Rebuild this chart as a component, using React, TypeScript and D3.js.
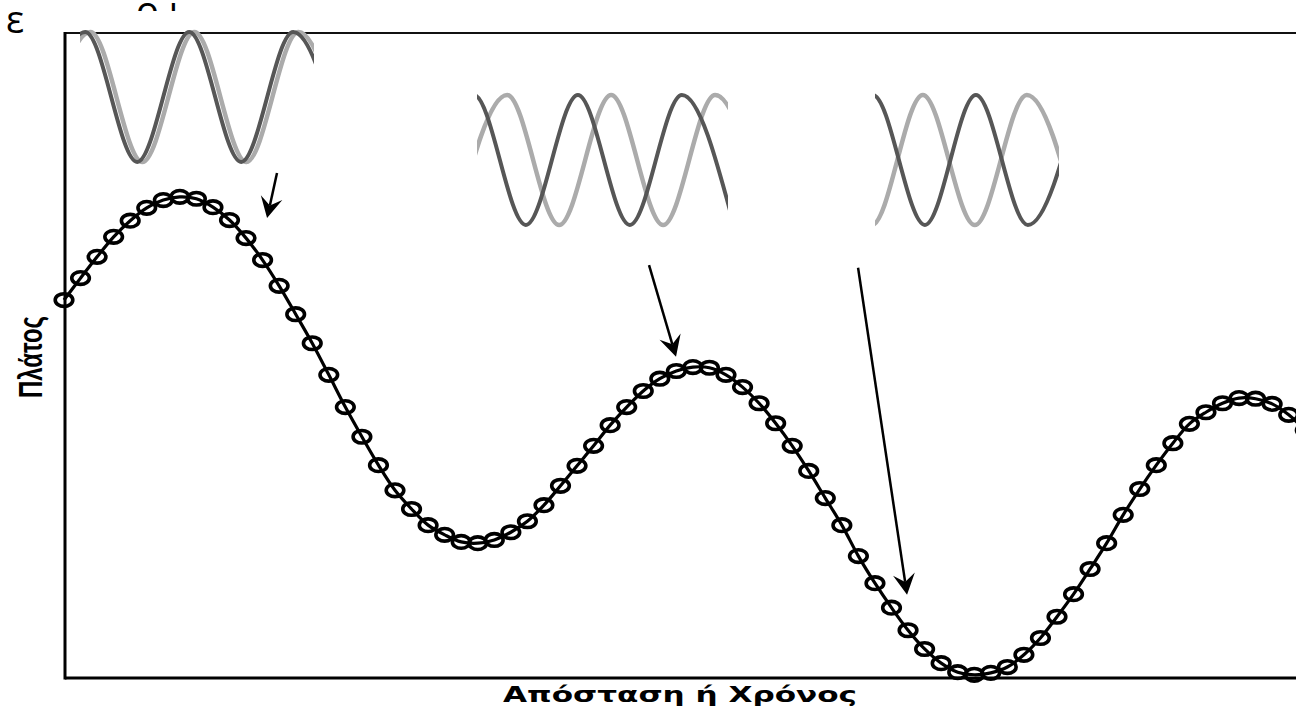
import React from 'react';
import * as d3 from 'd3';

const W = 1296;
const H = 714;

// Resulting wave: amplitude sampled at equal steps of distance / time
const amplitude: number[] = [
  58.6, 62.0, 65.3, 68.4, 70.9, 72.9, 74.1, 74.6, 74.3, 73.0,
  71.0, 68.2, 64.8, 60.8, 56.4, 51.9, 47.0, 42.0, 37.4, 33.0,
  29.1, 26.2, 23.7, 22.2, 21.1, 20.9, 21.4, 22.6, 24.3, 26.8,
  29.8, 32.9, 36.0, 39.2, 42.0, 44.5, 46.4, 47.6, 48.2, 48.1,
  47.0, 45.1, 42.6, 39.5, 36.0, 32.1, 27.9, 23.7, 18.9, 14.7,
  10.9, 7.4, 4.5, 2.3, 0.9, 0.5, 0.8, 1.7, 3.6, 6.2,
  9.5, 13.0, 16.9, 20.9, 25.3, 29.3, 33.0, 36.4, 39.4, 41.2,
  42.6, 43.4, 43.3, 42.5, 40.8, 38.4,
];
const step: number[] = amplitude.map((_, i) => i);

// Arrows (in data units: step, amplitude)
const arrowFromX = [12.87, 35.35, 47.98];
const arrowFromY = [78.3, 64.0, 63.6];
const arrowToX = [12.27, 36.98, 50.94];
const arrowToY = [71.3, 49.8, 12.9];

// Inset component waves: extrema positions (in cycles) and values (+1 crest, -1 trough)
const inset1DarkT = [-0.45, 0.05, 0.55, 1.05, 1.55, 2.05, 2.55];
const inset1DarkV = [-1, 1, -1, 1, -1, 1, -1];
const inset1LightT = [-0.4, 0.1, 0.6, 1.1, 1.6, 2.1, 2.6];
const inset1LightV = [-1, 1, -1, 1, -1, 1, -1];

const inset2DarkT = [-0.53, -0.03, 0.47, 0.97, 1.47, 1.97, 2.47];
const inset2DarkV = [-1, 1, -1, 1, -1, 1, -1];
const inset2LightT = [-0.21, 0.29, 0.79, 1.29, 1.79, 2.29, 2.79];
const inset2LightV = [-1, 1, -1, 1, -1, 1, -1];

const inset3DarkT = [-0.52, -0.02, 0.48, 0.97, 1.47, 1.97];
const inset3DarkV = [-1, 1, -1, 1, -1, 1];
const inset3LightT = [-0.53, -0.03, 0.46, 0.96, 1.46, 1.96];
const inset3LightV = [1, -1, 1, -1, 1, -1];

const xLabel = 'Απόσταση ή Χρόνος';
const yLabel = 'Πλάτος';

type Pt = [number, number];

function Inset({ id, x0, x1, top, bottom, period, dark, light }: {
  id: string; x0: number; x1: number; top: number; bottom: number; period: number;
  dark: Pt[]; light: Pt[];
}) {
  const xs = d3.scaleLinear().domain([0, 1]).range([x0, x0 + period]);
  const ys = d3.scaleLinear().domain([-1, 1]).range([bottom, top]);
  const line = d3.line<Pt>().x(d => xs(d[0])).y(d => ys(d[1])).curve(d3.curveMonotoneX);
  return (
    <g>
      <defs>
        <clipPath id={id}>
          <rect x={x0} y={top - 10} width={x1 - x0} height={bottom - top + 20} />
        </clipPath>
      </defs>
      <g clipPath={`url(#${id})`}>
        <path d={line(light) || ''} fill="none" stroke="#ababab" strokeWidth={4.5} />
        <path d={line(dark) || ''} fill="none" stroke="#565656" strokeWidth={4} />
      </g>
    </g>
  );
}

const zip = (t: number[], v: number[]): Pt[] => t.map((d, i) => [d, v[i]]);

export default function App() {
  const x = d3.scaleLinear().domain([0, 75]).range([64, 64 + 16.55 * 75]);
  const y = d3.scaleLinear().domain([0, 100]).range([678, 33]);

  const pts: Pt[] = step.map((s, i) => [s, amplitude[i]]);
  const line = d3.line<Pt>().x(d => x(d[0])).y(d => y(d[1])).curve(d3.curveCatmullRom);

  const arrows = arrowFromX.map((_, i) => {
    const ax = x(arrowFromX[i]), ay = y(arrowFromY[i]);
    const bx = x(arrowToX[i]), by = y(arrowToY[i]);
    const ang = Math.atan2(by - ay, bx - ax);
    const L = 21, Wd = 11, N = 13;
    const ux = Math.cos(ang), uy = Math.sin(ang);
    const px = -uy, py = ux;
    const head = [
      [bx, by],
      [bx - ux * L + px * Wd, by - uy * L + py * Wd],
      [bx - ux * N, by - uy * N],
      [bx - ux * L - px * Wd, by - uy * L - py * Wd],
    ];
    return { ax, ay, nx: bx - ux * N, ny: by - uy * N, head: 'M' + head.map(p => p.join(',')).join('L') + 'Z' };
  });

  const left = 65, right = W, top = 33, bottom = 678;

  return (
    <svg width={W} height={H} style={{ position: 'absolute', left: 0, top: 0, background: '#fff' }}
      fontFamily="'DejaVu Sans', sans-serif">
      <defs>
        <clipPath id="titleclip"><rect x={0} y={0} width={W} height={11} /></clipPath>
      </defs>
      {/* cut-off title remnants */}
      <text x={6} y={33} fontSize={38} fill="#000" fontFamily="'Open Sans', sans-serif">ε</text>
      <g clipPath="url(#titleclip)">
        <text x={136} y={24} fontSize={38} fill="#000" fontFamily="'Open Sans', sans-serif">ο ί</text>
      </g>

      {/* frame */}
      <line x1={left} x2={right} y1={top} y2={top} stroke="#111" strokeWidth={2} />
      <line x1={left} x2={left} y1={top - 1} y2={bottom + 1.5} stroke="#000" strokeWidth={3} />
      <line x1={left} x2={right} y1={bottom} y2={bottom} stroke="#000" strokeWidth={3} />

      {/* insets */}
      <Inset id="in1" x0={80} x1={314} top={32} bottom={162} period={104}
        dark={zip(inset1DarkT, inset1DarkV)} light={zip(inset1LightT, inset1LightV)} />
      <Inset id="in2" x0={477} x1={728} top={95} bottom={225} period={104}
        dark={zip(inset2DarkT, inset2DarkV)} light={zip(inset2LightT, inset2LightV)} />
      <Inset id="in3" x0={875} x1={1059} top={95} bottom={225} period={104}
        dark={zip(inset3DarkT, inset3DarkV)} light={zip(inset3LightT, inset3LightV)} />

      {/* resulting wave */}
      <path d={line(pts) || ''} fill="none" stroke="#000" strokeWidth={3.2} />
      {pts.map((p, i) => (
        <ellipse key={i} cx={x(p[0])} cy={y(p[1])} rx={8.8} ry={6.3} fill="none" stroke="#000" strokeWidth={3.6} />
      ))}

      {/* arrows */}
      {arrows.map((a, i) => (
        <g key={i}>
          <line x1={a.ax} y1={a.ay} x2={a.nx} y2={a.ny} stroke="#000" strokeWidth={2.5} />
          <path d={a.head} fill="#000" />
        </g>
      ))}

      {/* axis labels */}
      <text x={680} y={702} textAnchor="middle" fontSize={21} fontWeight="bold"
        textLength={354} lengthAdjust="spacingAndGlyphs" fill="#000">{xLabel}</text>
      <text transform="translate(42,357) rotate(-90)" textAnchor="middle" fontSize={34} fontWeight="bold"
        fontFamily="'Liberation Sans Narrow', 'Liberation Sans', sans-serif"
        textLength={82} lengthAdjust="spacingAndGlyphs" fill="#000">{yLabel}</text>
    </svg>
  );
}
